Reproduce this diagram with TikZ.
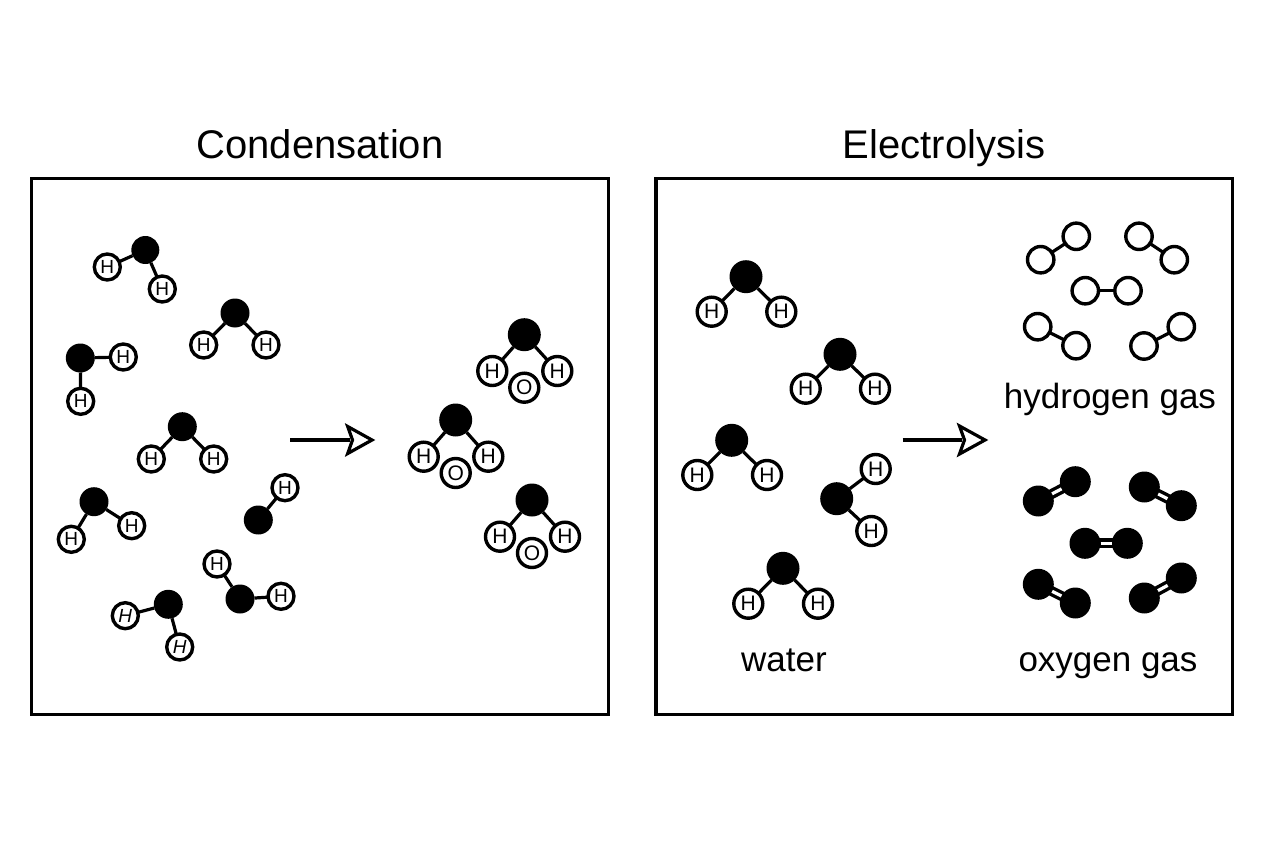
\documentclass[tikz,border=0pt]{standalone}
\usepackage{fontspec}
\setmainfont{Liberation Sans}
\newcommand{\fpx}[1]{\fontsize{#1}{#1}\selectfont}
\tikzset{
  x=1pt, y=-1pt,
  panel/.style={draw=black, line width=3.4pt, fill=white, minimum height=535.8pt, inner sep=0pt, outer sep=0pt},
  heading/.style={font=\fpx{40}, inner sep=0pt, text=black, anchor=base},
  caption/.style={font=\fpx{35}, inner sep=0pt, text=black, anchor=base},
  blackatom/.style={circle, fill=black, inner sep=0pt, outer sep=0pt, minimum size=#1},
  ringatom/.style={circle, draw=black, fill=white, line width=3.4pt, inner sep=0pt, outer sep=0pt, minimum size=#1},
  ringS/.style={ringatom=26pt, font=\fpx{19}},
  ringL/.style={ringatom=29pt, font=\fpx{21}},
  ringG/.style={ringatom=26.4pt},
  bond/.style={draw=black, line width=3.2pt},
  twinbond/.style={draw=black, line width=10pt},
  twincore/.style={draw=white, line width=3.2pt},
  flow/.style={draw=black, line width=3.2pt, line join=miter},
}
% A bent water molecule with two H atoms, drawn small or large
\newcommand{\watermol}[8]{% name, size style, black-atom size, Ox, Oy, H1, H2 positions, extras
  \node[blackatom=#3] (#1o) at (#4,#5) {};
  \node[#2] (#1a) at #6 {H};
  \node[#2] (#1b) at #7 {H};
  \draw[bond] (#1o) -- (#1a);
  \draw[bond] (#1o) -- (#1b);
  #8
}
\newcommand{\hydromol}[3]{%
  \node[ringG] (#1a) at #2 {};
  \node[ringG] (#1b) at #3 {};
  \draw[bond] (#1a) -- (#1b);
}
\newcommand{\oxymol}[3]{%
  \node[blackatom=31pt] (#1a) at #2 {};
  \node[blackatom=31pt] (#1b) at #3 {};
  \draw[twinbond] (#1a.center) -- (#1b.center);
  \draw[twincore] (#1a) -- (#1b);
}
\begin{document}
\begin{tikzpicture}
\useasboundingbox (0,0) rectangle (1264,848);
\fill[white] (0,0) rectangle (1264,848);

% Panels and their headings
\node[panel, minimum width=576.6pt] (leftbox) at (320,446.6) {};
\node[panel, minimum width=576.6pt] (rightbox) at (944.2,446.6) {};
\node[heading] (condtitle) at (320,158) {Condensation};
\node[heading] (electitle) at (944,158) {Electrolysis};

% Scattered water molecules, condensation side
\watermol{ma}{ringS}{28pt}{145.3}{250}{(107.3,267)}{(162.3,289)}{}
\watermol{mb}{ringS}{29pt}{235}{313}{(203.7,345)}{(266,345)}{}
\watermol{mc}{ringS}{29pt}{80.3}{358}{(123.3,357)}{(80.7,401.3)}{}
\watermol{md}{ringS}{29pt}{182.3}{426.7}{(151.3,459)}{(213.7,459)}{}
\watermol{me}{ringS}{29pt}{94}{501.7}{(71.3,539.3)}{(131.7,525.7)}{}
\watermol{mg}{ringS}{29pt}{240}{599}{(217,564)}{(281,596.3)}{}

% Molecule with a single H atom
\node[blackatom=29pt] (mfo) at (258.3,520) {};
\node[ringS] (mfa) at (285,487.7) {H};
\draw[bond] (mfo) -- (mfa);

% Tilted molecule: its H letters lean with it
\node[blackatom=29pt] (mho) at (168.3,604.3) {};
\node[ringS] (mha) at (125.3,615.7) {\itshape H};
\node[ringS] (mhb) at (179.7,647) {\itshape H};
\draw[bond] (mho) -- (mha);
\draw[bond] (mho) -- (mhb);

% Condensation arrow
\coordinate (condfrom) at (290,440);
\coordinate (condtip) at (372,440);
\draw[flow] (condfrom) -- (350,440);
\draw[flow, fill=white] (347.7,426.5) -- (condtip) -- (347.7,453.5) -- (352.5,440) -- cycle;

% Water molecules with a free O atom beneath
\watermol{pa}{ringL}{33pt}{524.3}{334.7}{(492.3,371)}{(557.3,371)}{\node[ringL] (pac) at (524.3,387.7) {O};}
\watermol{pb}{ringL}{33pt}{455.7}{420}{(423.7,456.7)}{(488.3,456.7)}{\node[ringL] (pbc) at (455.7,473) {O};}
\watermol{pc}{ringL}{33pt}{532}{500}{(500,536.7)}{(565,536.7)}{\node[ringL] (pcc) at (532,553) {O};}

% Water molecules, electrolysis side
\watermol{ra}{ringL}{33pt}{746}{276.7}{(711.7,311.7)}{(781.3,311.7)}{}
\watermol{rb}{ringL}{33pt}{840}{354.3}{(805.7,388.7)}{(875,388.7)}{}
\watermol{rc}{ringL}{33pt}{731.7}{440.3}{(697.3,475)}{(767,475)}{}
\watermol{rd}{ringL}{33pt}{836.7}{498.7}{(875.7,469)}{(871.3,531)}{}
\watermol{re}{ringL}{33pt}{783}{568.3}{(748.3,603.7)}{(818,603.7)}{}

% Electrolysis arrow
\coordinate (elecfrom) at (902.7,440);
\coordinate (electip) at (985,440);
\draw[flow] (elecfrom) -- (962,440);
\draw[flow, fill=white] (959.5,426) -- (electip) -- (959.5,454) -- (964.5,440) -- cycle;

% Hydrogen gas
\hydromol{ha}{(1076.3,236.3)}{(1040.7,259.7)}
\hydromol{hb}{(1139,236.3)}{(1174.3,259.7)}
\hydromol{hc}{(1085.3,290.7)}{(1128,290.7)}
\hydromol{hd}{(1037.7,326.7)}{(1076,345.7)}
\hydromol{he}{(1144,346)}{(1181.3,326.7)}

% Oxygen gas
\oxymol{oa}{(1075.3,481.7)}{(1038.3,501)}
\oxymol{ob}{(1144.3,487)}{(1181.3,505.7)}
\oxymol{oc}{(1085,543.3)}{(1127.3,543.3)}
\oxymol{od}{(1038.3,584.3)}{(1075.3,603)}
\oxymol{oe}{(1144.3,598)}{(1181.3,578)}

% Captions
\node[caption] (watertext) at (784,671) {water};
\node[caption] (hydrotext) at (1110,408.5) {hydrogen gas};
\node[caption] (oxytext) at (1108,671) {oxygen gas};
\end{tikzpicture}
\end{document}
